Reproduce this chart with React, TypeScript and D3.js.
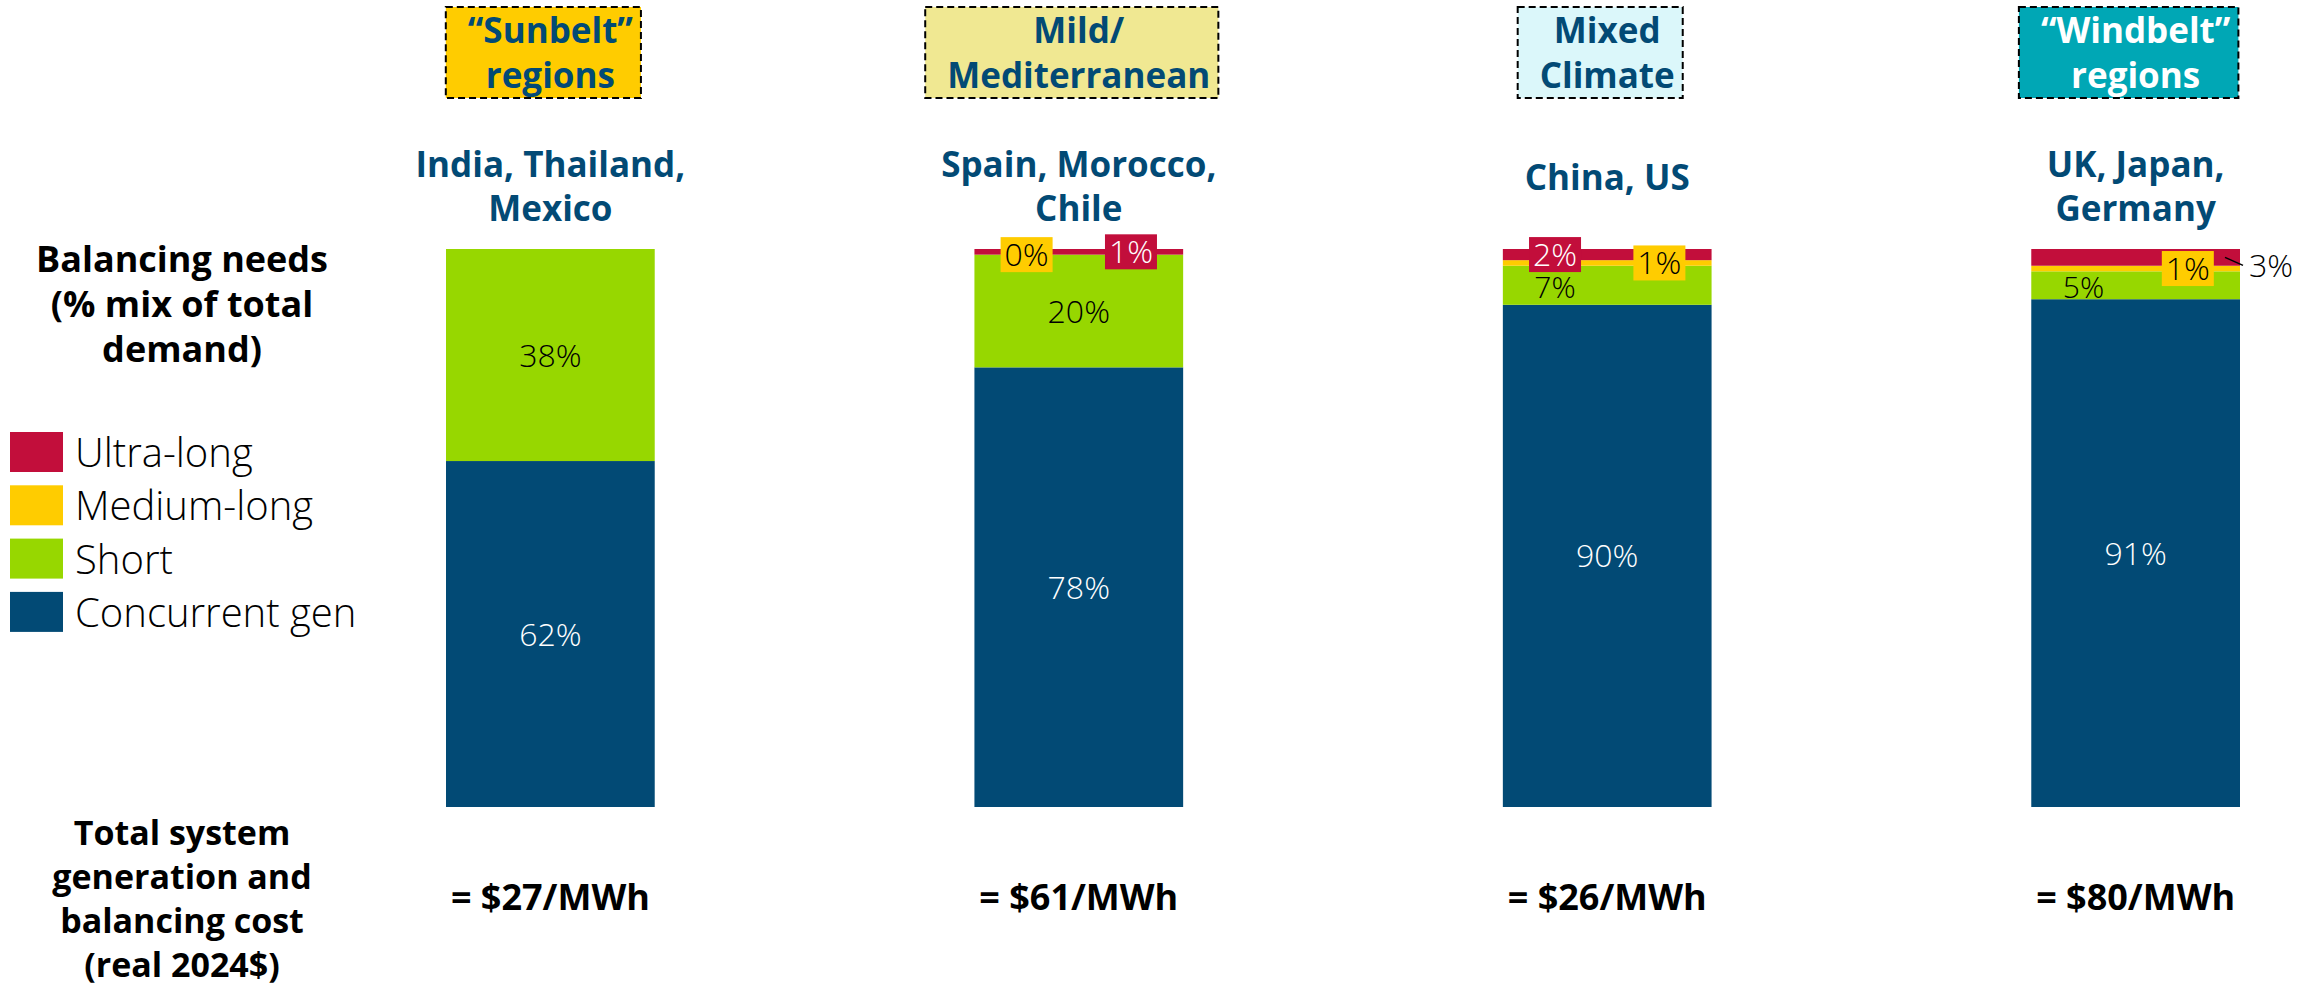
import React, { useEffect, useMemo } from 'react';
import * as d3 from 'd3';

// ---------- data ----------
const regions = ['Sunbelt', 'Mild', 'Mixed', 'Windbelt'];
const regionBoxLines = [
  ['\u201CSunbelt\u201D', 'regions'],
  ['Mild/', 'Mediterranean'],
  ['Mixed', 'Climate'],
  ['\u201CWindbelt\u201D', 'regions'],
];
const regionCountries = [
  ['India, Thailand,', 'Mexico'],
  ['Spain, Morocco,', 'Chile'],
  ['China, US'],
  ['UK, Japan,', 'Germany'],
];
const concurrentGen = [62, 78, 90, 91];
const shortDuration = [38, 20, 7, 5];
const mediumLong: (number | null)[] = [null, 0, 1, 1];
const ultraLong: (number | null)[] = [null, 1, 2, 3];
const costPerMWh = [27, 61, 26, 80];
const legendNames = ['Ultra-long', 'Medium-long', 'Short', 'Concurrent gen'];
const leftHeading = ['Balancing needs', '(% mix of total', 'demand)'];
const leftCostHeading = ['Total system', 'generation and', 'balancing cost', '(real 2024$)'];

// ---------- style / layout ----------
const W = 2305;
const H = 989;
const FONT = "'Open Sans', 'DejaVu Sans', sans-serif";
const NAVY = '#024A75';
const seriesKeys = ['concurrent', 'short', 'medium', 'ultra'];
const seriesColor: Record<string, string> = {
  concurrent: '#024A75',
  short: '#97D700',
  medium: '#FFCC00',
  ultra: '#C20E3B',
};
const legendKeys = ['ultra', 'medium', 'short', 'concurrent'];
const boxFills = ['#FFCC00', '#F0E892', '#DBF7FA', '#00A7B5'];
const boxText = [NAVY, NAVY, NAVY, '#FFFFFF'];
const smallPlacement: Record<string, string>[] = [
  {},
  { medium: 'left', ultra: 'right' },
  { ultra: 'left', medium: 'right' },
  { medium: 'right', ultra: 'outside' },
];

let ctx: CanvasRenderingContext2D | null = null;
function measure(text: string, font: string) {
  if (!ctx) ctx = document.createElement('canvas').getContext('2d');
  if (!ctx) return text.length * 20;
  ctx.font = font;
  return ctx.measureText(text).width;
}

export default function App() {
  useEffect(() => {
    document.body.style.margin = '0';
    document.body.style.overflow = 'hidden';
  }, []);

  const rows = regions.map((r, i) => ({
    region: r,
    concurrent: concurrentGen[i],
    short: shortDuration[i],
    medium: mediumLong[i] ?? 0,
    ultra: ultraLong[i] ?? 0,
  }));

  const stacked = useMemo(
    () => d3.stack<any>().keys(seriesKeys).offset(d3.stackOffsetExpand)(rows),
    []
  );

  const x = d3.scaleBand<string>().domain(regions).range([446, 2240]).paddingInner(0.605).paddingOuter(0);
  const y = d3.scaleLinear().domain([0, 1]).range([807, 249]);
  const bw = x.bandwidth();

  const rawValue = (key: string, i: number): number | null => {
    if (key === 'concurrent') return concurrentGen[i];
    if (key === 'short') return shortDuration[i];
    if (key === 'medium') return mediumLong[i];
    return ultraLong[i];
  };

  const labelFont = 32;
  const boxFontSize = 35;

  return (
    <svg width={W} height={H} style={{ position: 'absolute', left: 0, top: 0, background: '#fff' }} fontFamily={FONT}>
      {/* left headings */}
      <text textAnchor="middle" fontWeight={700} fontSize={36} fill="#000">
        {leftHeading.map((l, i) => (
          <tspan key={i} x={182} y={272 + i * 45}>{l}</tspan>
        ))}
      </text>
      <text textAnchor="middle" fontWeight={700} fontSize={34} fill="#000">
        {leftCostHeading.map((l, i) => (
          <tspan key={i} x={182} y={845 + i * 44}>{l}</tspan>
        ))}
      </text>

      {/* legend */}
      {legendKeys.map((k, i) => (
        <g key={k} transform={`translate(10, ${432 + i * 53.3})`}>
          <rect width={53} height={40} fill={seriesColor[k]} />
          <text x={65} y={35} fontSize={40} fontWeight={300} fill="#000">{legendNames[i]}</text>
        </g>
      ))}

      {/* region boxes and titles */}
      {regions.map((r, i) => {
        const cx = (x(r) as number) + bw / 2;
        const bf = `700 ${boxFontSize}px ${FONT}`;
        const tw = Math.max(...regionBoxLines[i].map((l) => measure(l, bf)));
        const bwid = tw + 30;
        const lines = regionCountries[i];
        const firstBase = lines.length === 2 ? 177 : 190;
        return (
          <g key={r}>
            <rect
              x={cx - 7 - bwid / 2}
              y={7}
              width={bwid}
              height={91}
              fill={boxFills[i]}
              stroke="#000"
              strokeWidth={2}
              strokeDasharray="7 4"
            />
            <text textAnchor="middle" fontWeight={700} fontSize={boxFontSize} fill={boxText[i]}>
              {regionBoxLines[i].map((l, j) => (
                <tspan key={j} x={cx} y={43 + j * 45}>{l}</tspan>
              ))}
            </text>
            <text textAnchor="middle" fontWeight={700} fontSize={35} fill={NAVY}>
              {lines.map((l, j) => (
                <tspan key={j} x={cx} y={firstBase + j * 44}>{l}</tspan>
              ))}
            </text>
            <text x={cx} y={910} textAnchor="middle" fontWeight={700} fontSize={36} fill="#000">
              {`= $${costPerMWh[i]}/MWh`}
            </text>
          </g>
        );
      })}

      {/* bars */}
      {stacked.map((s) => (
        <g key={s.key} fill={seriesColor[s.key]}>
          {s.map((d, i) => {
            const h = y(d[0]) - y(d[1]);
            if (h <= 0) return null;
            return <rect key={i} x={x(regions[i])} y={y(d[1])} width={bw} height={h} />;
          })}
        </g>
      ))}

      {/* labels */}
      {stacked.map((s) => (
        <g key={'lab-' + s.key}>
          {s.map((d, i) => {
            const v = rawValue(s.key, i);
            if (v === null) return null;
            const x0 = x(regions[i]) as number;
            const cx = x0 + bw / 2;
            const ym = (y(d[0]) + y(d[1])) / 2;
            const txt = `${v}%`;
            if (s.key === 'concurrent' || (s.key === 'short' && v >= 10)) {
              return (
                <text key={i} x={cx} y={ym} dy="0.36em" textAnchor="middle" fontSize={labelFont} fontWeight={300}
                  fill={s.key === 'concurrent' ? '#fff' : '#000'}>{txt}</text>
              );
            }
            if (s.key === 'short') {
              return (
                <text key={i} x={cx - bw / 4} y={ym + 2} dy="0.36em" textAnchor="middle" fontSize={30} fontWeight={300} fill="#000">{txt}</text>
              );
            }
            const place = smallPlacement[i][s.key];
            if (place === 'outside') {
              const xr = x0 + bw;
              return (
                <g key={i}>
                  <line x1={xr - 15} y1={ym} x2={xr + 3} y2={ym + 8} stroke="#000" strokeWidth={1.5} />
                  <text x={xr + 9} y={ym + 20} fontSize={labelFont} fontWeight={300} fill="#000">{txt}</text>
                </g>
              );
            }
            const lx = place === 'left' ? cx - bw / 4 : cx + bw / 4;
            return (
              <g key={i}>
                <rect x={lx - 26} y={ym - 17.5} width={52} height={35} fill={seriesColor[s.key]} />
                <text x={lx} y={ym} dy="0.36em" textAnchor="middle" fontSize={labelFont} fontWeight={300}
                  fill={s.key === 'ultra' ? '#fff' : '#000'}>{txt}</text>
              </g>
            );
          })}
        </g>
      ))}
    </svg>
  );
}
